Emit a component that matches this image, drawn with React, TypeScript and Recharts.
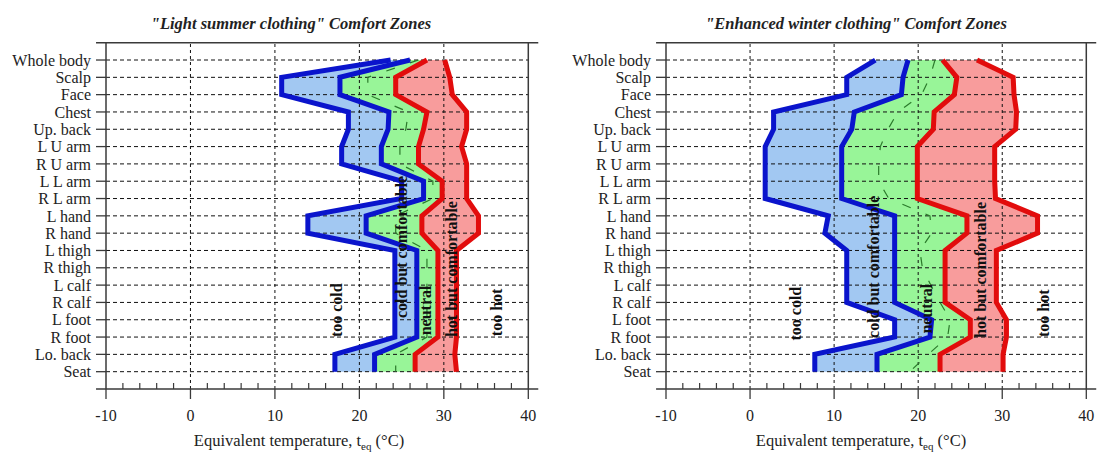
import React from 'react';
import { ComposedChart, Area, Line, XAxis, YAxis, ReferenceLine, ReferenceDot } from 'recharts';

const bodyParts = [
  'Whole body', 'Scalp', 'Face', 'Chest', 'Up. back', 'L U arm', 'R U arm', 'L L arm', 'R L arm',
  'L hand', 'R hand', 'L thigh', 'R thigh', 'L calf', 'R calf', 'L foot', 'R foot', 'Lo. back', 'Seat',
];
const rowTicks = bodyParts.map((_, i) => i);
const xTicks = [-10, -8, -6, -4, -2, 0, 2, 4, 6, 8, 10, 12, 14, 16, 18, 20, 22, 24, 26, 28, 30, 32, 34, 36, 38, 40];
const majorStep = 10;
const gridX = [0, 10, 20, 30];

// "Light summer clothing" boundaries (°C)
const summerCold = [23.7, 10.8, 10.8, 18.7, 18.7, 17.9, 17.9, 25.0, 25.0, 13.9, 13.9, 24.2, 24.2, 24.2, 24.2, 24.2, 24.2, 17.1, 17.1];
const summerLow = [26.0, 17.7, 17.7, 23.5, 23.4, 22.6, 22.6, 27.6, 27.6, 20.8, 20.8, 26.8, 26.8, 26.8, 26.8, 26.8, 26.8, 21.8, 21.8];
const summerMid = [27.0, 21.0, 21.0, 25.8, 25.5, 24.8, 24.8, 28.7, 28.7, 24.3, 24.3, 28.0, 28.0, 28.0, 28.0, 28.0, 28.0, 24.3, 24.3];
const summerHigh = [28.0, 24.3, 24.3, 28.0, 27.6, 27.0, 27.0, 29.8, 29.8, 27.4, 27.4, 29.3, 29.3, 29.3, 29.3, 29.3, 29.3, 26.6, 26.6];
const summerHot = [30.1, 30.7, 31.0, 32.7, 32.7, 32.1, 32.7, 32.7, 32.7, 34.1, 34.1, 31.5, 31.5, 31.5, 31.5, 31.5, 31.5, 31.3, 31.5];

// "Enhanced winter clothing" boundaries (°C)
const winterCold = [14.9, 11.5, 11.5, 2.8, 2.8, 1.8, 1.8, 1.8, 1.8, 9.3, 8.9, 11.5, 11.5, 11.5, 11.5, 17.2, 17.2, 7.7, 7.7];
const winterLow = [18.8, 18.2, 18.0, 12.4, 12.1, 10.9, 10.9, 10.9, 10.9, 17.2, 17.2, 17.2, 17.2, 17.2, 17.2, 21.6, 21.4, 15.1, 15.1];
const winterMid = [22.0, 21.4, 20.4, 17.6, 16.4, 15.5, 15.3, 15.3, 16.5, 21.4, 21.6, 20.2, 20.5, 21.5, 22.6, 23.8, 23.5, 21.2, 19.0];
const winterHigh = [22.9, 24.6, 24.3, 21.9, 21.8, 19.9, 19.9, 19.9, 19.9, 25.8, 25.8, 23.2, 23.2, 23.2, 23.2, 26.2, 26.2, 22.6, 22.6];
const winterHot = [27.0, 31.3, 31.4, 31.7, 31.6, 29.1, 29.1, 29.1, 29.2, 34.2, 34.2, 29.3, 29.3, 29.3, 29.3, 30.5, 30.5, 30.1, 30.1];

const zoneLabels = ['too cold', 'cold but comfortable', 'neutral', 'hot but comfortable', 'too hot'];
const summerLabelX = [17.3, 25.0, 27.8, 30.9, 36.2];
const summerLabelY = [16.0, 14.9, 15.9, 16.0, 15.95];
const winterLabelX = [5.35, 14.7, 21.0, 27.4, 34.9];
const winterLabelY = [16.2, 16.05, 15.8, 16.05, 16.0];

const SERIF = '"Liberation Serif", "Times New Roman", Times, serif';

type Row = { idx: number; part: string; cold: number; low: number; mid: number; high: number; hot: number };

const buildRows = (a: number[], b: number[], c: number[], d: number[], e: number[]): Row[] =>
  bodyParts.map((part, i) => ({ idx: i, part, cold: a[i], low: b[i], mid: c[i], high: d[i], hot: e[i] }));

const summerRows = buildRows(summerCold, summerLow, summerMid, summerHigh, summerHot);
const winterRows = buildRows(winterCold, winterLow, winterMid, winterHigh, winterHot);

const BLUE = '#0a14cc';
const RED = '#e20c0c';
const FRAME = '#3a3a3a';
const TICK_SIZE = 10;
const TICK_MARGIN = 6;
const Y_AXIS_W = 100;

function XTick(p: any) {
  const { x, y, payload } = p;
  const v = payload.value as number;
  const axisY = y - TICK_MARGIN - TICK_SIZE;
  const major = v % majorStep === 0;
  return (
    <g>
      {major ? (
        <line x1={x} x2={x} y1={axisY} y2={axisY + TICK_SIZE} stroke={FRAME} strokeWidth={1.3} />
      ) : (
        <line x1={x} x2={x} y1={axisY} y2={axisY - 6} stroke={FRAME} strokeWidth={1.2} />
      )}
      {major && (
        <text x={x} y={y} dy="1.0em" textAnchor="middle" fontSize={16} fontFamily={SERIF} fill="#222">
          {v}
        </text>
      )}
    </g>
  );
}

function Panel(props: { rows: Row[]; labelX: number[]; labelY: number[]; left: number; right: number }) {
  const { rows, labelX, labelY, left, right } = props;
  return (
    <ComposedChart
      width={549}
      height={457}
      layout="vertical"
      data={rows}
      margin={{ top: 42.7, right: right - 10, bottom: 68 - 30, left: left - Y_AXIS_W }}
    >
      <XAxis
        type="number"
        domain={[-10, 40]}
        ticks={xTicks}
        interval={0}
        height={30}
        allowDataOverflow
        tickSize={TICK_SIZE}
        tickMargin={TICK_MARGIN}
        axisLine={false}
        tickLine={false}
        tick={<XTick />}
      />
      <YAxis
        type="number"
        dataKey="idx"
        domain={[-1, 19]}
        ticks={rowTicks}
        interval={0}
        width={Y_AXIS_W}
        tickSize={10}
        tickMargin={5}
        axisLine={false}
        tickLine={{ stroke: FRAME, strokeWidth: 1.3 }}
        tickFormatter={(v: number) => bodyParts[v]}
        tick={{ fontSize: 16, fill: '#222', fontFamily: SERIF }}
      />
      <YAxis
        yAxisId="right"
        orientation="right"
        type="number"
        dataKey="idx"
        domain={[-1, 19]}
        ticks={rowTicks}
        interval={0}
        width={10}
        tickSize={10}
        tick={false}
        axisLine={false}
        tickLine={{ stroke: FRAME, strokeWidth: 1.3 }}
      />

      <Area type="linear" dataKey={(d: Row) => [d.cold, d.low]} fill="#a2c8f2" fillOpacity={1} stroke="none" isAnimationActive={false} activeDot={false} />
      <Area type="linear" dataKey={(d: Row) => [d.low, d.high]} fill="#98f598" fillOpacity={1} stroke="none" isAnimationActive={false} activeDot={false} />
      <Area type="linear" dataKey={(d: Row) => [d.high, d.hot]} fill="#f89c9c" fillOpacity={1} stroke="none" isAnimationActive={false} activeDot={false} />

      {rowTicks.map((i) => (
        <ReferenceLine key={'h' + i} y={i} stroke="#111" strokeWidth={1} strokeDasharray="4 3" />
      ))}
      {gridX.map((x) => (
        <ReferenceLine key={'v' + x} x={x} stroke="#111" strokeWidth={1} strokeDasharray="3 3" />
      ))}
      <ReferenceLine x={-10} stroke={FRAME} strokeWidth={1.5} />
      <ReferenceLine x={40} stroke={FRAME} strokeWidth={1.5} />
      <ReferenceLine segment={[{ x: -11.18, y: -1 }, { x: 41.18, y: -1 }]} ifOverflow="visible" stroke={FRAME} strokeWidth={1.5} />
      <ReferenceLine segment={[{ x: -11.18, y: 19 }, { x: 41.18, y: 19 }]} ifOverflow="visible" stroke={FRAME} strokeWidth={1.5} />

      <Line type="linear" dataKey="mid" stroke="#2b7a2b" strokeWidth={1.2} strokeDasharray="9 16" dot={false} activeDot={false} isAnimationActive={false} />
      <Line type="linear" dataKey="cold" stroke={BLUE} strokeWidth={5} strokeLinejoin="miter" dot={false} activeDot={false} isAnimationActive={false} />
      <Line type="linear" dataKey="low" stroke={BLUE} strokeWidth={5} strokeLinejoin="miter" dot={false} activeDot={false} isAnimationActive={false} />
      <Line type="linear" dataKey="high" stroke={RED} strokeWidth={5} strokeLinejoin="miter" dot={false} activeDot={false} isAnimationActive={false} />
      <Line type="linear" dataKey="hot" stroke={RED} strokeWidth={5} strokeLinejoin="miter" dot={false} activeDot={false} isAnimationActive={false} />

      {zoneLabels.map((t, i) => (
        <ReferenceDot
          key={t}
          x={labelX[i]}
          y={labelY[i]}
          r={0}
          ifOverflow="visible"
          shape={(p: any) => (
            <text
              x={p.cx}
              y={p.cy}
              transform={`rotate(-90 ${p.cx} ${p.cy})`}
              textAnchor="start"
              dominantBaseline="central"
              fontSize={16}
              fontWeight="bold"
              fontFamily={SERIF}
              fill="#111"
            >
              {t}
            </text>
          )}
        />
      ))}
    </ComposedChart>
  );
}

export default function App() {
  return (
    <div style={{ position: 'absolute', left: 0, top: 0, width: 1098, height: 457, background: '#fff', overflow: 'hidden' }}>
      <div style={{ position: 'absolute', left: 0, top: 0 }}>
        <Panel rows={summerRows} labelX={summerLabelX} labelY={summerLabelY} left={106} right={20.7} />
      </div>
      <div style={{ position: 'absolute', left: 549, top: 0 }}>
        <Panel rows={winterRows} labelX={winterLabelX} labelY={winterLabelY} left={117} right={11.7} />
      </div>
      <svg width={1098} height={457} style={{ position: 'absolute', left: 0, top: 0, pointerEvents: 'none' }}>
        <text x={291} y={23} textAnchor="middle" dominantBaseline="central" fontFamily={SERIF} fontSize={16.5} fontWeight="bold" fontStyle="italic" fill="#222">
          "Light summer clothing" Comfort Zones
        </text>
        <text x={856} y={23} textAnchor="middle" dominantBaseline="central" fontFamily={SERIF} fontSize={16.5} fontWeight="bold" fontStyle="italic" fill="#222">
          "Enhanced winter clothing" Comfort Zones
        </text>
        <text x={299} y={446} textAnchor="middle" fontFamily={SERIF} fontSize={16.5} fill="#222">
          Equivalent temperature, t<tspan fontSize={11} dy={4}>eq</tspan><tspan dy={-4}> (°C)</tspan>
        </text>
        <text x={861} y={446} textAnchor="middle" fontFamily={SERIF} fontSize={16.5} fill="#222">
          Equivalent temperature, t<tspan fontSize={11} dy={4}>eq</tspan><tspan dy={-4}> (°C)</tspan>
        </text>
      </svg>
    </div>
  );
}
